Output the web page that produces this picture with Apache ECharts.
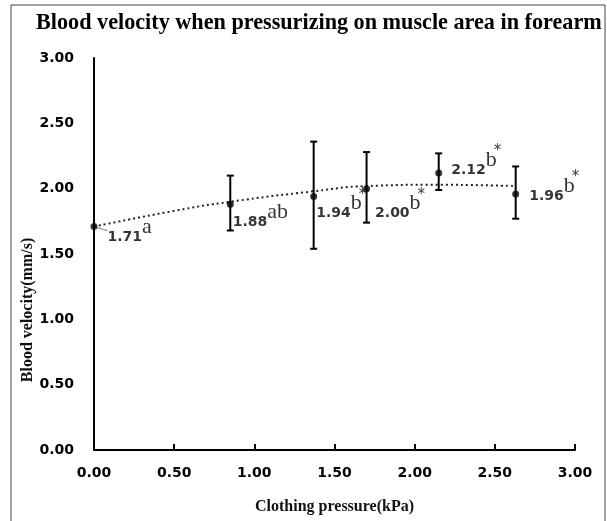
<!DOCTYPE html>
<html>
<head>
<meta charset="utf-8">
<script src="https://cdn.jsdelivr.net/npm/echarts@6/dist/echarts.min.js"></script>
<style>
html,body{margin:0;padding:0;background:#fff;}
#chart{width:607px;height:521px;}
</style>
</head>
<body>
<div id="chart"></div>
<script>
// ---- data ----
const titleText = 'Blood velocity when pressurizing on muscle area in forearm';
const xAxisName = 'Clothing pressure(kPa)';
const yAxisName = 'Blood velocity(mm/s)';
const xValues = [0, 0.85, 1.37, 1.70, 2.15, 2.63];
const yValues = [1.71, 1.88, 1.94, 2.00, 2.12, 1.96];
const errLow  = [null, 1.68, 1.54, 1.74, 1.99, 1.77];
const errHigh = [null, 2.10, 2.36, 2.28, 2.27, 2.17];
const sigLetters = ['a', 'ab', 'b', 'b', 'b', 'b'];
const sigStars   = ['', '', '*', '*', '*', '*'];
const trendX = [0, 0.5, 0.85, 1.37, 1.70, 2.15, 2.62];
const trendY = [1.71, 1.83, 1.90, 1.98, 2.02, 2.03, 2.02];
const axisMin = 0, axisMax = 3, axisStep = 0.5;

// ---- layout (label nudges, not data) ----
const labelNudge = [[5, 7], [-6, 14], [-6, 13], [0, 21], [4, -7], [5, -2]];
const showGuide = [true, false, false, false, false, false];

const chart = echarts.init(document.getElementById('chart'), null, {renderer: 'canvas'});

const pointData = xValues.map((x, i) => ({
  value: [x, yValues[i]],
  labelLine: {show: showGuide[i]}
}));
const errData = xValues.map((x, i) => [x, errLow[i], errHigh[i]]);
const trendData = trendX.map((x, i) => [x, trendY[i]]);

const sansBold = {fontFamily: 'DejaVu Sans', fontWeight: 'bold', color: '#000'};
const supBase = {fontFamily: 'Liberation Serif', fontSize: 22, lineHeight: 22, color: '#000',
                 verticalAlign: 'bottom', padding: [0, 0, 6, 0]};

const option = {
  backgroundColor: '#fff',
  animation: false,
  title: {
    text: titleText,
    left: 31, top: 7,
    textStyle: {fontFamily: 'Liberation Serif', fontWeight: 'bold', fontSize: 22.2, color: '#000'}
  },
  grid: {left: 94, right: 32, top: 58, bottom: 71, containLabel: false},
  xAxis: {
    type: 'value', min: axisMin, max: axisMax, interval: axisStep,
    name: xAxisName, nameLocation: 'middle', nameGap: 49,
    nameTextStyle: {fontFamily: 'Liberation Serif', fontWeight: 'bold', fontSize: 16, color: '#111'},
    axisLine: {show: true, lineStyle: {color: '#000', width: 2}},
    axisTick: {show: true, inside: true, length: 6, lineStyle: {color: '#000', width: 2}},
    splitLine: {show: false},
    axisLabel: Object.assign({fontSize: 14, margin: 16, formatter: v => v.toFixed(2)}, sansBold)
  },
  yAxis: {
    type: 'value', min: axisMin, max: axisMax, interval: axisStep,
    axisLine: {show: true, lineStyle: {color: '#000', width: 2}},
    axisTick: {show: false},
    splitLine: {show: false},
    axisLabel: Object.assign({fontSize: 14, margin: 20, formatter: v => v.toFixed(2)}, sansBold)
  },
  graphic: [
    {type: 'rect', shape: {x: 11, y: 5, width: 594, height: 530},
     style: {fill: 'none', stroke: '#444', lineWidth: 1}, silent: true},
    {type: 'text', x: 28, y: 310, rotation: Math.PI / 2,
     style: {text: yAxisName, fontFamily: 'Liberation Serif', fontWeight: 'bold', fontSize: 16,
             fill: '#111', align: 'center', verticalAlign: 'middle'}}
  ],
  series: [
    {
      type: 'line', data: trendData, smooth: 0.5, showSymbol: false, symbol: 'none',
      lineStyle: {color: '#222', width: 2, type: [2, 3]}, z: 1, silent: true
    },
    {
      type: 'custom', data: errData, z: 2, silent: true,
      renderItem: function (params, api) {
        const lo = api.value(1), hi = api.value(2);
        if (lo == null || hi == null || isNaN(lo) || isNaN(hi)) return null;
        const x = api.value(0);
        const a = api.coord([x, lo]), b = api.coord([x, hi]);
        const w = 3.5;
        const st = {stroke: '#000', lineWidth: 2};
        return {type: 'group', children: [
          {type: 'line', shape: {x1: a[0], y1: a[1], x2: b[0], y2: b[1]}, style: st},
          {type: 'line', shape: {x1: a[0] - w, y1: a[1], x2: a[0] + w, y2: a[1]}, style: st},
          {type: 'line', shape: {x1: b[0] - w, y1: b[1], x2: b[0] + w, y2: b[1]}, style: st}
        ]};
      }
    },
    {
      type: 'scatter', data: pointData, symbol: 'circle', symbolSize: 7, z: 3,
      itemStyle: {color: '#000'},
      label: {
        show: true, position: 'right', distance: 5,
        formatter: function (p) {
          const i = p.dataIndex;
          let s = '{n|' + yValues[i].toFixed(2) + '}';
          if (sigStars[i]) {
            s += '{sn|' + sigLetters[i] + '}{st|' + sigStars[i] + '}';
          } else {
            s += '{s|' + sigLetters[i] + '}';
          }
          return s;
        },
        rich: {
          n: {fontFamily: 'DejaVu Sans', fontWeight: 'bold', fontSize: 14, lineHeight: 16, color: '#000', verticalAlign: 'bottom'},
          s: Object.assign({}, supBase),
          sn: Object.assign({}, supBase, {width: 8}),
          st: {fontFamily: 'DejaVu Sans', fontSize: 15, lineHeight: 14, color: '#000', verticalAlign: 'bottom', padding: [0, 0, 18, 0]}
        }
      },
      labelLine: {show: false, lineStyle: {color: '#999', width: 1.2}},
      labelLayout: function (params) {
        const d = labelNudge[params.dataIndex];
        return {dx: d[0], dy: d[1]};
      }
    }
  ]
};
chart.setOption(option);
</script>
</body>
</html>
